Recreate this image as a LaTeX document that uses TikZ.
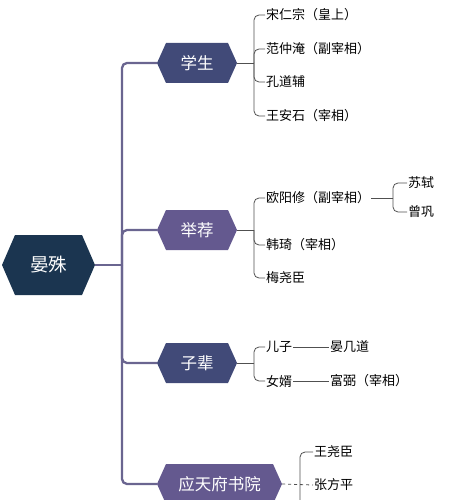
\documentclass[tikz,border=0pt]{standalone}
\usepackage{fontspec}
\usepackage{tikz}
\newfontfamily\cjk{Noto Sans CJK SC}
\definecolor{rootc}{HTML}{1B3550}
\definecolor{bluec}{HTML}{414A78}
\definecolor{purc}{HTML}{64598F}
\definecolor{trunkc}{HTML}{6A6590}
\definecolor{linec}{HTML}{505050}
\tikzset{
  hexa/.style 2 args={minimum height=40pt, inner sep=0pt, text=white,
    font=\cjk\fontsize{16.5}{16.5}\selectfont,
    path picture={\fill[#1] ([xshift=#2]path picture bounding box.north west)
      -- ([xshift=-#2]path picture bounding box.north east)
      -- (path picture bounding box.east)
      -- ([xshift=-#2]path picture bounding box.south east)
      -- ([xshift=#2]path picture bounding box.south west)
      -- (path picture bounding box.west) -- cycle;}},
  leaf/.style={anchor=west, inner sep=1pt, text=black, font=\cjk\fontsize{13}{13}\selectfont},
  trunk/.style={draw=trunkc, line width=2.3pt, rounded corners=5pt},
  twig/.style={draw=linec, line width=0.8pt, rounded corners=5pt}
}
\begin{document}
\begin{tikzpicture}[x=1pt,y=1pt]
	\useasboundingbox (0,0) rectangle (473,-500);
	\node[hexa={rootc}{13pt}, minimum width=93pt, minimum height=60pt, font=\cjk\fontsize{18.5}{18.5}\selectfont] (ys) at (48.5,-265) {晏殊};
	\node[hexa={bluec}{9pt}, minimum width=80pt] (xs) at (197,-63) {学生};
	\node[hexa={purc}{9pt}, minimum width=80pt] (jj) at (197,-230) {举荐};
	\node[hexa={bluec}{9pt}, minimum width=80pt] (zb) at (197,-363) {子辈};
	\node[hexa={purc}{9pt}, minimum width=125pt] (yt) at (219.5,-484) {应天府书院};
		\node[leaf] (s1) at (265,-15) {宋仁宗（皇上）};
		\node[leaf] (s2) at (265,-49) {范仲淹（副宰相）};
		\node[leaf] (s3) at (265,-82) {孔道辅};
		\node[leaf] (s4) at (265,-116) {王安石（宰相）};
		\node[leaf] (j1) at (265,-198) {欧阳修（副宰相）};
		\node[leaf] (j2) at (265,-245) {韩琦（宰相）};
		\node[leaf] (j3) at (265,-278) {梅尧臣};
			\node[leaf] (o1) at (407,-183) {苏轼};
			\node[leaf] (o2) at (407,-212) {曾巩};
		\node[leaf] (z1) at (265,-347) {儿子};
		\node[leaf] (z2) at (265,-381) {女婿};
			\node[leaf] (z3) at (329,-347) {晏几道};
			\node[leaf] (z4) at (329,-381) {富弼（宰相）};
		\node[leaf] (y1) at (313,-452) {王尧臣};
		\node[leaf] (y2) at (313,-485) {张方平};
	\coordinate (t) at (122,-265);
	\coordinate (xsb) at (254,-63);
	\coordinate (jjb) at (254,-230);
	\coordinate (zbb) at (254,-363);
	\coordinate (j1b) at (393,-198);
	\coordinate (ytb) at (300,-520);
	\draw[trunk] (ys.east) -- (t);
	\draw[trunk] (t) |- (xs.west);
	\draw[trunk] (t) |- (jj.west);
	\draw[trunk] (t) |- (zb.west);
	\draw[trunk] (t) |- (yt.west);
	\draw[twig] (xs.east) -- (xsb);
	\draw[twig] (xsb) |- (s1.west);
	\draw[twig] (xsb) |- (s2.west);
	\draw[twig] (xsb) |- (s3.west);
	\draw[twig] (xsb) |- (s4.west);
	\draw[twig] (jj.east) -- (jjb);
	\draw[twig] (jjb) |- (j1.west);
	\draw[twig] (jjb) |- (j2.west);
	\draw[twig] (jjb) |- (j3.west);
	\draw[twig] (j1.east) -- (j1b);
	\draw[twig] (j1b) |- (o1.west);
	\draw[twig] (j1b) |- (o2.west);
	\draw[twig] (zb.east) -- (zbb);
	\draw[twig] (zbb) |- (z1.west);
	\draw[twig] (zbb) |- (z2.west);
	\draw[twig] (z1.east) -- (z3.west);
	\draw[twig] (z2.east) -- (z4.west);
	\draw[twig] (ytb) |- (y1.west);
	\draw[twig, dashed] (yt.east) -- (y2.west);
\end{tikzpicture}
\end{document}
